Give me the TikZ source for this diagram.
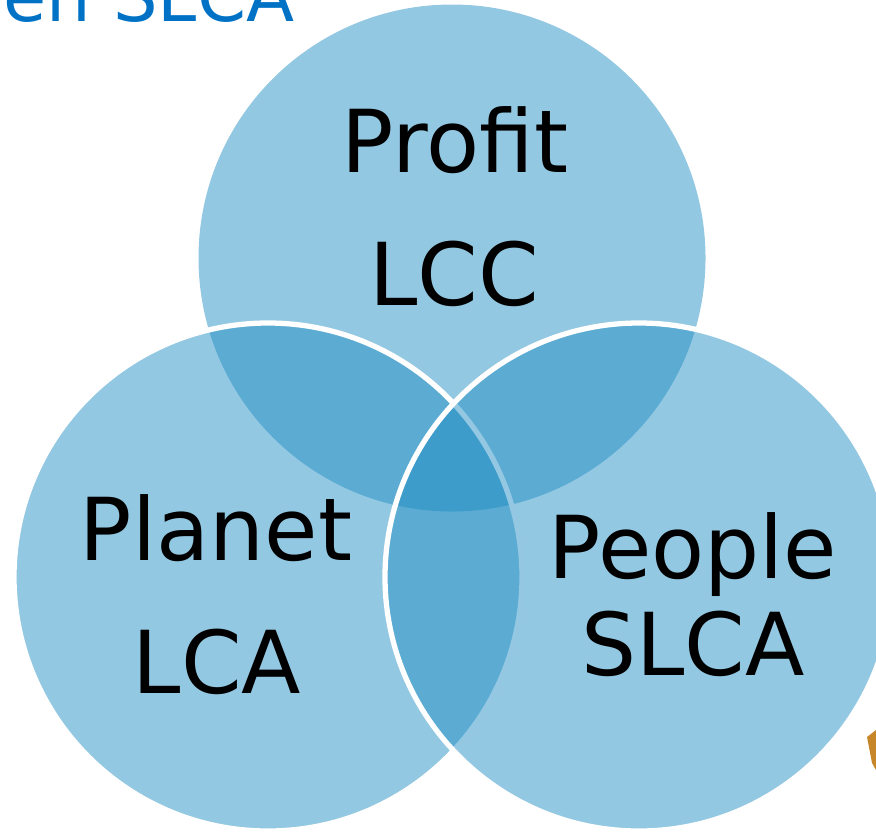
\documentclass[tikz,border=0pt]{standalone}
\usepackage{fontspec}
\setmainfont{DejaVu Sans}
\usepackage{tikz}
\usetikzlibrary{positioning}
\definecolor{vennblue}{RGB}{30,140,195}
\definecolor{titleblue}{RGB}{0,114,198}
\definecolor{cardbrown}{RGB}{200,134,42}
\tikzset{
  venn/.style={fill=vennblue, fill opacity=0.48},
  rim/.style={draw=white, line width=1.5pt},
  lbl/.style={font=\fontsize{24.7}{30}\selectfont, anchor=base, inner sep=0pt},
  heading/.style={font=\fontsize{20}{24}\selectfont, text=titleblue, anchor=base east, inner sep=0pt}
}

\begin{document}
\begin{tikzpicture}
\useasboundingbox (0,0) rectangle (8.76,8.33);
\clip (0,0) rectangle (8.76,8.33);

% title, cut off by the slide edge
\node[heading] (title) at (2.95,8.12) {en SLCA};

% the three circles
\fill[venn] (4.52,5.75) circle (2.535);
\path[venn, rim] (2.68,2.56) circle (2.54);
\path[venn, rim] (6.39,2.56) circle (2.54);

% labels
\node[lbl] (profit) at (4.55,6.61) {Profit};
\node[lbl] (lcc) at (4.54,5.28) {LCC};
\node[lbl] (planet) at (2.16,2.73) {Planet};
\node[lbl] (lca) at (2.17,1.40) {LCA};
\node[lbl] (people) at (6.93,2.55) {People};
\node[lbl] (slca) at (6.93,1.58) {SLCA};

% corner of a picture beside the diagram
\fill[cardbrown] (8.67,0.96) -- (8.76,1.03) -- (8.76,0.63) -- (8.72,0.70) -- cycle;
\end{tikzpicture}
\end{document}
